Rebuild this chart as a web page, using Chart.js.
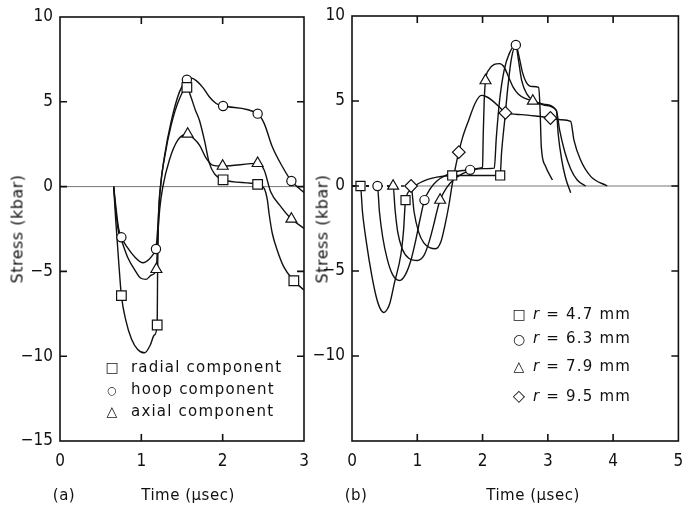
<!DOCTYPE html>
<html>
<head>
<meta charset="utf-8">
<script src="https://cdn.jsdelivr.net/npm/chart.js@4.4.1/dist/chart.umd.min.js"></script>
<style>
  html, body { margin: 0; padding: 0; background: #fff; overflow: hidden; }
  body { width: 683px; height: 505px; position: relative; font-family: "DejaVu Sans", sans-serif; color: #111; }
  canvas { position: absolute; top: 0; }
  #chartA { left: 0; }
  #chartB { left: 300px; }
  .txt { position: absolute; white-space: nowrap; transform: translate(-50%, -50%); font-size: 15px; letter-spacing: 0.5px; }
  .ytitle { transform: translate(-50%, -50%) rotate(-90deg); font-size: 16px; }
  .leg { position: absolute; white-space: nowrap; transform: translateY(-50%); font-size: 15px; letter-spacing: 1.2px; }
  .sym { position: absolute; transform: translate(-50%, -50%); font-size: 14px; line-height: 1; }
</style>
</head>
<body>
<canvas id="chartA" width="312" height="505"></canvas>
<canvas id="chartB" width="386" height="505"></canvas>

<div class="txt ytitle" style="left:17px; top:229px;">Stress (kbar)</div>
<div class="txt ytitle" style="left:322px; top:229px;">Stress (kbar)</div>
<div class="txt" style="left:64px; top:495px;">(a)</div>
<div class="txt" style="left:188px; top:495px;">Time (µsec)</div>
<div class="txt" style="left:356px; top:495px;">(b)</div>
<div class="txt" style="left:533px; top:495px;">Time (µsec)</div>

<!-- legend (a) -->
<div class="sym" style="left:112px; top:367px;">□</div>
<div class="leg" style="left:131px; top:367px;">radial component</div>
<div class="sym" style="left:112px; top:390px; font-size:11px;">○</div>
<div class="leg" style="left:131px; top:389px;">hoop component</div>
<div class="sym" style="left:112px; top:411px;">△</div>
<div class="leg" style="left:131px; top:411px;">axial component</div>

<!-- legend (b) -->
<div class="sym" style="left:519px; top:314px;">□</div>
<div class="leg" style="left:533px; top:314px;"><i>r</i> = 4.7 mm</div>
<div class="sym" style="left:519px; top:339px;">○</div>
<div class="leg" style="left:533px; top:338px;"><i>r</i> = 6.3 mm</div>
<div class="sym" style="left:519px; top:366px;">△</div>
<div class="leg" style="left:533px; top:366px;"><i>r</i> = 7.9 mm</div>
<div class="sym" style="left:519px; top:396px; font-size:16px;">◇</div>
<div class="leg" style="left:533px; top:396px;"><i>r</i> = 9.5 mm</div>

<script>
// axes
const stressTicks = [-15, -10, -5, 0, 5, 10];
const timeTicksA = [0, 1, 2, 3];
const timeTicksB = [0, 1, 2, 3, 4, 5];

// (a) stress components, [time µsec, stress kbar]
const radialCurve = [[0.66,0],[0.685,-1.97],[0.72,-4.33],[0.755,-6.43],[0.81,-7.9],[0.88,-9.0],[0.955,-9.6],[1.04,-9.8],[1.11,-9.34],[1.16,-8.75],[1.195,-8.16],[1.2,-5.0],[1.21,-2.0],[1.235,0],[1.285,1.7],[1.365,3.6],[1.47,5.2],[1.56,5.85],[1.61,5.28],[1.665,4.5],[1.715,3.9],[1.775,2.75],[1.835,1.4],[1.9,0.75],[2.005,0.4],[2.43,0.13],[2.51,-0.1],[2.55,-0.8],[2.57,-1.57],[2.61,-2.75],[2.67,-3.74],[2.75,-4.72],[2.875,-5.55],[3.0,-6.1]];
const radialMarks = [[0.755,-6.43],[1.195,-8.16],[1.56,5.85],[2.005,0.4],[2.43,0.13],[2.875,-5.55]];

const hoopCurve = [[0.66,0],[0.685,-1.1],[0.72,-2.45],[0.755,-2.99],[0.83,-3.6],[0.92,-4.15],[1.02,-4.49],[1.1,-4.27],[1.15,-3.97],[1.18,-3.68],[1.2,-2.55],[1.218,-1.1],[1.236,0],[1.285,1.8],[1.365,3.8],[1.47,5.6],[1.56,6.3],[1.61,6.4],[1.675,6.25],[1.755,5.85],[1.835,5.3],[1.92,4.9],[2.005,4.75],[2.43,4.3],[2.51,3.73],[2.61,2.35],[2.735,1.17],[2.845,0.33],[3.0,-0.35]];
const hoopMarks = [[0.755,-2.99],[1.18,-3.68],[1.56,6.3],[2.005,4.75],[2.43,4.3],[2.845,0.33]];

const axialCurve = [[0.66,0],[0.685,-1.38],[0.72,-2.68],[0.755,-3.15],[0.83,-4.15],[0.92,-4.92],[0.99,-5.39],[1.06,-5.47],[1.125,-5.21],[1.185,-4.88],[1.2,-3.15],[1.225,-1.38],[1.265,0],[1.345,1.57],[1.45,2.75],[1.57,3.1],[1.64,2.85],[1.715,2.45],[1.795,1.69],[1.875,1.27],[2.0,1.21],[2.43,1.37],[2.51,0.98],[2.59,-0.3],[2.715,-1.18],[2.845,-1.91],[3.0,-2.46]];
const axialMarks = [[1.185,-4.88],[1.57,3.1],[2.0,1.21],[2.43,1.37],[2.845,-1.91]];

// (b) radial positions
const r47Curve = [[0,0],[0.13,0],[0.16,-1.5],[0.22,-3.3],[0.3,-5.2],[0.37,-6.5],[0.43,-7.2],[0.49,-7.44],[0.54,-7.25],[0.58,-6.9],[0.65,-5.7],[0.75,-4.0],[0.79,-2.6],[0.82,-0.83],[0.9,-0.25],[1.0,0.1],[1.15,0.38],[1.3,0.52],[1.535,0.62],[1.9,0.62],[2.27,0.62],[2.29,1.9],[2.34,3.9],[2.39,5.9],[2.44,7.45],[2.51,8.3],[2.55,7.4],[2.6,6.2],[2.68,5.4],[2.77,5.05],[2.95,4.8],[3.13,4.45],[3.16,3.0],[3.21,1.6],[3.27,0.5],[3.35,-0.4]];
const r47Marks = [[0.13,0],[0.82,-0.83],[1.535,0.62],[2.27,0.62]];

const r63Curve = [[0,0],[0.39,0],[0.42,-1.5],[0.47,-3.0],[0.54,-4.3],[0.62,-5.2],[0.73,-5.56],[0.82,-5.2],[0.9,-4.4],[0.97,-3.3],[1.04,-2.0],[1.11,-0.83],[1.2,-0.15],[1.3,0.3],[1.45,0.65],[1.6,0.85],[1.81,0.95],[2.0,1.02],[2.18,1.05],[2.21,2.8],[2.26,5.0],[2.33,6.8],[2.41,7.8],[2.51,8.3],[2.56,7.6],[2.61,6.7],[2.67,6.1],[2.76,5.85],[2.86,5.8],[2.88,4.6],[2.9,2.3],[2.96,1.2],[3.07,0.35]];
const r63Marks = [[0.39,0],[1.11,-0.83],[1.81,0.95],[2.51,8.3]];

const r79Curve = [[0,0],[0.63,0],[0.66,-1.4],[0.7,-2.7],[0.77,-3.7],[0.87,-4.25],[1.0,-4.38],[1.1,-4.1],[1.18,-3.3],[1.25,-2.3],[1.3,-1.5],[1.35,-0.83],[1.45,-0.1],[1.55,0.35],[1.68,0.7],[1.81,0.9],[1.95,1.05],[2.0,1.1],[2.01,3.0],[2.025,5.0],[2.045,6.2],[2.1,6.85],[2.18,7.15],[2.26,7.2],[2.33,7.0],[2.4,6.4],[2.47,5.8],[2.55,5.4],[2.65,5.15],[2.77,5.0],[2.95,4.75],[3.13,4.45],[3.18,3.3],[3.26,2.0],[3.35,1.0],[3.45,0.35],[3.58,0.0]];
const r79Marks = [[0.63,0],[1.35,-0.83],[2.045,6.2],[2.77,5.0]];

const r95Curve = [[0,0],[0.905,0],[0.95,-1.5],[1.02,-2.7],[1.1,-3.35],[1.19,-3.62],[1.28,-3.69],[1.36,-3.3],[1.43,-2.2],[1.49,-1.0],[1.535,0.1],[1.59,1.2],[1.636,1.99],[1.69,2.8],[1.79,3.9],[1.89,4.9],[1.98,5.33],[2.06,5.25],[2.14,5.05],[2.27,4.6],[2.35,4.3],[2.6,4.2],[2.85,4.1],[3.04,4.0],[3.2,3.9],[3.35,3.8],[3.4,2.7],[3.5,1.54],[3.66,0.55],[3.91,0.0]];
const r95Marks = [[0.905,0],[1.636,1.99],[2.35,4.3],[3.04,4.0]];

const ink = '#111';
const tickFont = { family: '"DejaVu Sans Condensed", "DejaVu Sans", sans-serif', size: 17 };

// frame, inward ticks and the zero line
const framePlugin = {
  id: 'frame',
  beforeDatasetsDraw(chart, args, opts) {
    const { ctx, chartArea: a, scales: { x, y } } = chart;
    const y0 = y.getPixelForValue(0);
    ctx.save();
    ctx.strokeStyle = '#777';
    ctx.lineWidth = 1;
    ctx.beginPath();
    ctx.moveTo(x.getPixelForValue(opts.zeroFrom), y0);
    ctx.lineTo(a.right, y0);
    ctx.stroke();
    ctx.restore();
  },
  afterDraw(chart) {
    const { ctx, chartArea: a, scales: { x, y } } = chart;
    const len = 7;
    ctx.save();
    ctx.strokeStyle = ink;
    ctx.lineWidth = 1.6;
    ctx.strokeRect(a.left, a.top, a.right - a.left, a.bottom - a.top);
    ctx.beginPath();
    x.ticks.forEach(t => {
      if (t.value <= x.min || t.value >= x.max) return;
      const px = x.getPixelForValue(t.value);
      ctx.moveTo(px, a.top); ctx.lineTo(px, a.top + len);
      ctx.moveTo(px, a.bottom); ctx.lineTo(px, a.bottom - len);
    });
    y.ticks.forEach(t => {
      if (t.value <= y.min || t.value >= y.max) return;
      const py = y.getPixelForValue(t.value);
      ctx.moveTo(a.left, py); ctx.lineTo(a.left + len, py);
      ctx.moveTo(a.right, py); ctx.lineTo(a.right - len, py);
    });
    ctx.stroke();
    ctx.restore();
  }
};

function toXY(pairs) {
  return pairs.map(p => ({ x: p[0], y: p[1] }));
}

function curveSet(pairs) {
  return {
    data: toXY(pairs),
    borderColor: ink,
    borderWidth: 1.4,
    pointRadius: 0,
    fill: false,
    cubicInterpolationMode: 'monotone',
    order: 1,
    segment: {
      // flat part before the wave arrives is dashed
      borderDash: c => (c.p0.parsed.y === 0 && c.p1.parsed.y === 0) ? [3, 4] : undefined
    }
  };
}

function markSet(pairs, style, radius) {
  return {
    data: toXY(pairs),
    showLine: false,
    pointStyle: style,
    pointRadius: radius,
    pointBackgroundColor: '#fff',
    pointBorderColor: ink,
    pointBorderWidth: 1.2,
    order: 0
  };
}

function fmt(v) {
  return v < 0 ? '\u2212' + Math.abs(v) : String(v);
}

function makeChart(id, cfg) {
  return new Chart(document.getElementById(id), {
    type: 'line',
    data: { datasets: cfg.datasets },
    options: {
      responsive: false,
      animation: false,
      devicePixelRatio: 1,
      events: [],
      layout: { padding: { top: cfg.top, right: cfg.right, left: 0, bottom: 0 } },
      plugins: {
        legend: { display: false },
        tooltip: { enabled: false },
        frame: { zeroFrom: cfg.zeroFrom }
      },
      scales: {
        x: {
          type: 'linear',
          min: 0,
          max: cfg.xTicks[cfg.xTicks.length - 1],
          afterBuildTicks: s => { s.ticks = cfg.xTicks.map(v => ({ value: v })); },
          afterFit: s => { s.height = 64; s.paddingLeft = 0; s.paddingRight = 0; },
          grid: { display: false, drawTicks: false },
          border: { display: false },
          ticks: { padding: 10, color: ink, font: tickFont, maxRotation: 0, autoSkip: false, callback: v => fmt(v) }
        },
        y: {
          type: 'linear',
          min: -15,
          max: 10,
          afterBuildTicks: s => { s.ticks = stressTicks.map(v => ({ value: v })); },
          afterFit: s => { s.width = cfg.yWidth; s.paddingTop = 0; s.paddingBottom = 0; },
          grid: { display: false, drawTicks: false },
          border: { display: false },
          ticks: { padding: 7, color: ink, font: tickFont, autoSkip: false,
                   callback: v => cfg.hideY.includes(v) ? '' : fmt(v) }
        }
      }
    },
    plugins: [framePlugin]
  });
}

makeChart('chartA', {
  top: 17, right: 7, yWidth: 60, zeroFrom: 0, xTicks: timeTicksA, hideY: [],
  datasets: [
    curveSet(radialCurve), curveSet(hoopCurve), curveSet(axialCurve),
    markSet(radialMarks, 'rect', 6.8),
    markSet(hoopMarks, 'circle', 4.6),
    markSet(axialMarks, 'triangle', 6.3)
  ]
});

makeChart('chartB', {
  top: 16, right: 3, yWidth: 52, zeroFrom: 0.905, xTicks: timeTicksB, hideY: [-15],
  datasets: [
    curveSet(r47Curve), curveSet(r63Curve), curveSet(r79Curve), curveSet(r95Curve),
    markSet(r47Marks, 'rect', 6.4),
    markSet(r63Marks, 'circle', 4.6),
    markSet(r79Marks, 'triangle', 6.3),
    markSet(r95Marks, 'rectRot', 6.3)
  ]
});
</script>
</body>
</html>
